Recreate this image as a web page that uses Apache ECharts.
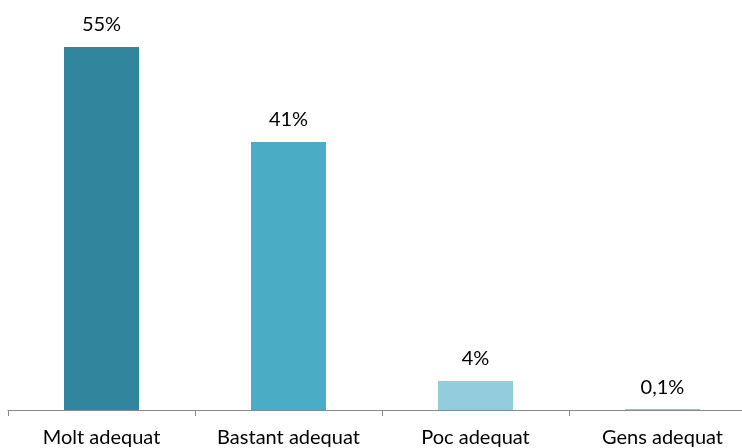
<!DOCTYPE html>
<html>
<head>
<meta charset="utf-8">
<script src="https://cdn.jsdelivr.net/npm/echarts@6/dist/echarts.min.js"></script>
<style>html,body{margin:0;padding:0;background:#fff;overflow:hidden;width:742px;height:448px}#c{width:756px;height:448px}</style>
</head>
<body>
<div id="c"></div>
<script>
const categories = ["Molt adequat", "Bastant adequat", "Poc adequat", "Gens adequat"];
const values = [55.0, 40.6, 4.4, 0.1];
const valueLabels = ["55%", "41%", "4%", "0,1%"];
const barColors = ["#31859C", "#4BACC6", "#93CDDD", "#8CA8B4"];

const chart = echarts.init(document.getElementById('c'), null, {renderer: 'canvas'});
chart.setOption({
  animation: false,
  grid: {left: 8, top: 47, bottom: 38, right: 0, containLabel: false},
  xAxis: {
    type: 'category',
    data: categories,
    axisLine: {lineStyle: {color: '#898989', width: 1}},
    axisTick: {show: true, length: 6, lineStyle: {color: '#898989'}},
    axisLabel: {interval: 0, color: '#000', fontFamily: 'Lato', fontSize: 20, margin: 18}
  },
  yAxis: {type: 'value', min: 0, max: 55, show: false, splitLine: {show: false}},
  series: [{
    type: 'bar',
    barWidth: 75,
    data: values.map((v, i) => ({value: v, itemStyle: {color: barColors[i]}})),
    label: {
      show: true, position: 'top', distance: 12,
      color: '#000', fontFamily: 'Lato', fontSize: 20,
      formatter: p => valueLabels[p.dataIndex]
    }
  }]
});
</script>
</body>
</html>
